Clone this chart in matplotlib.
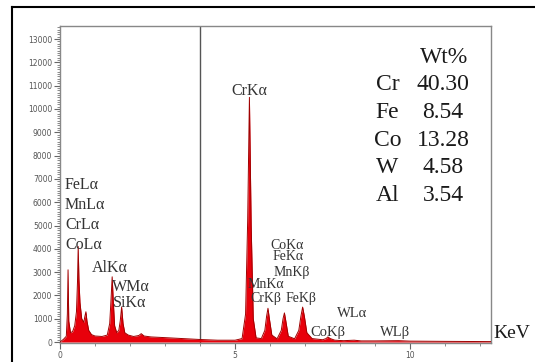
import matplotlib.pyplot as plt
from matplotlib.ticker import MultipleLocator
from matplotlib.lines import Line2D

# spectrum (keV, counts)
energy = [0.0, 0.1, 0.18, 0.21, 0.23, 0.25, 0.3, 0.36, 0.42, 0.47, 0.5, 0.52,
          0.54, 0.57, 0.62, 0.68, 0.71, 0.74, 0.77, 0.82, 0.9, 1.0, 1.2, 1.35,
          1.42, 1.46, 1.49, 1.52, 1.56, 1.62, 1.68, 1.72, 1.76, 1.8, 1.85,
          1.95, 2.1, 2.25, 2.32, 2.4, 2.6, 3.0, 3.5, 4.0, 4.5, 5.0, 5.2, 5.3,
          5.36, 5.41, 5.46, 5.52, 5.6, 5.75, 5.85, 5.9, 5.94, 5.98, 6.05,
          6.2, 6.32, 6.37, 6.41, 6.45, 6.52, 6.7, 6.82, 6.88, 6.93, 6.98,
          7.05, 7.2, 7.5, 7.6, 7.65, 7.72, 7.85, 8.1, 8.4, 8.6, 9.0, 9.67,
          10.0, 11.0, 12.3]
counts = [0, 120, 250, 1200, 3100, 900, 400, 450, 700, 1300, 2600, 4100,
          2700, 1700, 1000, 850, 1100, 1300, 900, 500, 320, 260, 240, 300,
          800, 1900, 2800, 1800, 700, 400, 500, 900, 1500, 800, 400,
          300, 240, 280, 360, 260, 220, 190, 150, 110, 80, 80, 150, 1200,
          5200, 10500, 5000, 1000, 180, 150, 500, 1100, 1450, 1000, 300,
          140, 500, 1000, 1250, 900, 250, 140, 500, 1100, 1500, 1100,
          400, 150, 100, 150, 220, 150, 80, 60, 80, 50, 50, 60,
          40, 30, 20]

# peak labels
peak_labels = ["FeLα", "MnLα", "CrLα", "CoLα", "AlKα", "WMα", "SiKα",
               "CrKα", "CoKα", "FeKα", "MnKβ", "MnKα", "CrKβ", "FeKβ",
               "WLα", "CoKβ", "WLβ"]
label_x = [0.14, 0.14, 0.14, 0.14, 0.91, 1.49, 1.51,
           5.4, 6.49, 6.51, 6.63, 5.37, 5.43, 6.43,
           7.91, 7.14, 9.14]
label_y = [6740, 5880, 5020, 4160, 3180, 2360, 1670,
           10750, 4160, 3650, 3000, 2450, 1890, 1890,
           1240, 430, 430]
label_ha = ["left", "left", "left", "left", "left", "left", "left",
            "center", "center", "center", "center", "left", "left", "left",
            "left", "left", "left"]
label_size = [11.5, 11.5, 11.5, 11.5, 11.5, 11.5, 11.5,
              11.5, 10, 10, 10, 10, 10, 10,
              10.5, 10.5, 10.5]

# composition table
elements = ["Cr", "Fe", "Co", "W", "Al"]
wt_pct = ["40.30", "8.54", "13.28", "4.58", "3.54"]
row_y = [12190, 11030, 9830, 8630, 7470, 6270]

fig = plt.figure(figsize=(5.35, 3.62), dpi=100)
ax = fig.add_axes([60 / 535, 19 / 362, 431 / 535, 317 / 362])

ax.fill_between(energy, counts, 0, color="#e8000b", lw=0, zorder=2)
ax.plot(energy, counts, color="#a00000", lw=0.7, zorder=3)
ax.axvline(4.0, color="#555555", lw=1.0, zorder=1)

ax.set_xlim(0, 12.31)
ax.set_ylim(-40, 13560)

ax.xaxis.set_major_locator(MultipleLocator(5))
ax.xaxis.set_minor_locator(MultipleLocator(1))
ax.yaxis.set_major_locator(MultipleLocator(1000))
ax.yaxis.set_minor_locator(MultipleLocator(100))
ax.tick_params(which="major", length=4, width=0.8, color="#666666",
               labelsize=5.5, labelcolor="#555555", pad=1.5)
ax.tick_params(which="minor", length=2.5, width=0.6, color="#777777")
for s in ax.spines.values():
    s.set_color("#888888")
    s.set_linewidth(1.0)

serif = "Liberation Serif"
for t, x, y, ha, fs in zip(peak_labels, label_x, label_y, label_ha, label_size):
    ax.text(x, y, t, ha=ha, va="center", fontsize=fs, family=serif,
            color="#333333", zorder=4)

ax.text(10.97, row_y[0], "Wt%", ha="center", va="center", fontsize=17,
        family=serif, color="#1a1a1a")
for el, val, y in zip(elements, wt_pct, row_y[1:]):
    ax.text(9.35, y, el, ha="center", va="center", fontsize=17,
            family=serif, color="#1a1a1a")
    ax.text(10.94, y, val, ha="center", va="center", fontsize=17,
            family=serif, color="#1a1a1a")

fig.text(493 / 535, 1 - 333 / 362, "KeV", ha="left", va="center",
         fontsize=14, family=serif, color="#1a1a1a")

# outer frame (left and top edges)
fig.add_artist(Line2D([12 / 535, 12 / 535], [0, 1 - 7 / 362],
                      transform=fig.transFigure, color="black", lw=1.5))
fig.add_artist(Line2D([12 / 535, 1], [1 - 7 / 362, 1 - 7 / 362],
                      transform=fig.transFigure, color="black", lw=1.5))

fig.savefig("out.png", dpi=100)
